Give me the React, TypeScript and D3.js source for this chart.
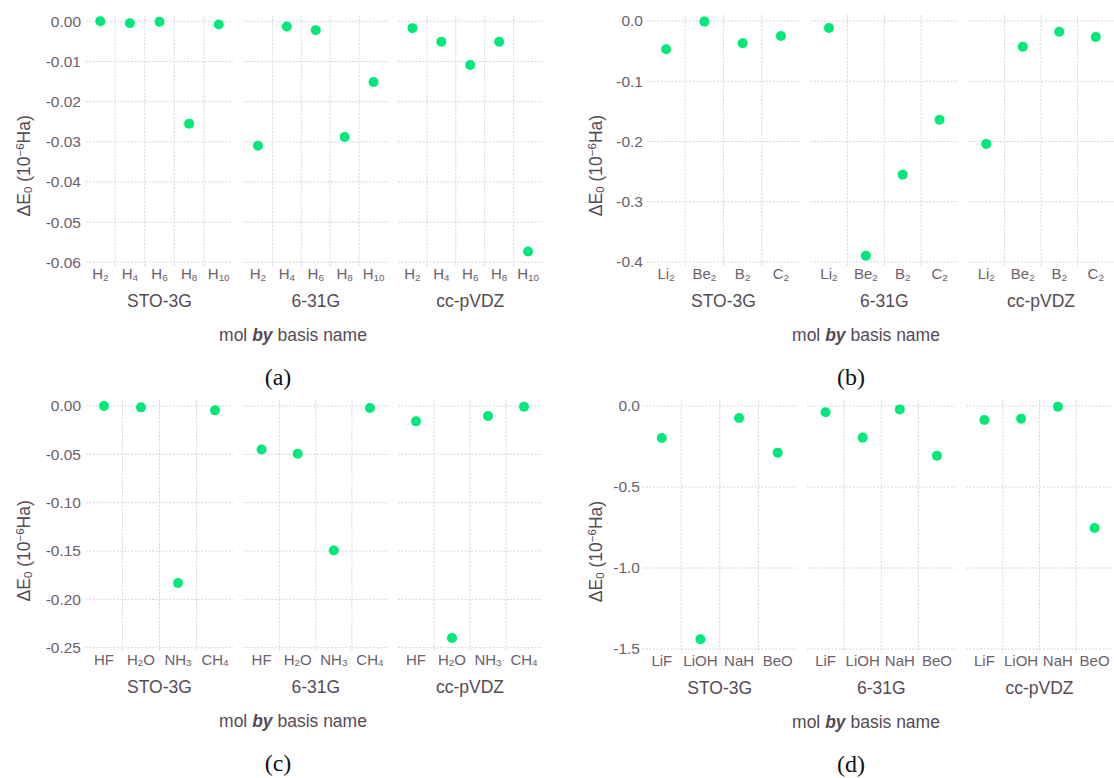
import React from 'react';
import * as d3 from 'd3';

// basis sets (facets), shared by all four panels
const basisNames = ['STO-3G', '6-31G', 'cc-pVDZ'];

// (a) hydrogen chains
const molsA = ['H_2', 'H_4', 'H_6', 'H_8', 'H_10'];
const stoA = [0.0, -0.0005, -0.0001, -0.0255, -0.0008];
const g631A = [-0.031, -0.0013, -0.0022, -0.0288, -0.0151];
const ccA = [-0.0017, -0.0051, -0.0109, -0.0051, -0.0573];
const ticksA = [0, -0.01, -0.02, -0.03, -0.04, -0.05, -0.06];

// (b) dimers
const molsB = ['Li_2', 'Be_2', 'B_2', 'C_2'];
const stoB = [-0.047, -0.001, -0.037, -0.025];
const g631B = [-0.0116, -0.3895, -0.255, -0.164];
const ccB = [-0.204, -0.0427, -0.0177, -0.0266];
const ticksB = [0, -0.1, -0.2, -0.3, -0.4];

// (c) hydrides
const molsC = ['HF', 'H_2O', 'NH_3', 'CH_4'];
const stoC = [0.0, -0.0014, -0.183, -0.0045];
const g631C = [-0.045, -0.0494, -0.1494, -0.002];
const ccC = [-0.0159, -0.24, -0.0104, -0.0007];
const ticksC = [0, -0.05, -0.1, -0.15, -0.2, -0.25];

// (d) ionic
const molsD = ['LiF', 'LiOH', 'NaH', 'BeO'];
const stoD = [-0.197, -1.44, -0.074, -0.288];
const g631D = [-0.039, -0.195, -0.021, -0.307];
const ccD = [-0.086, -0.078, -0.004, -0.753];
const ticksD = [0, -0.5, -1.0, -1.5];

const FONT = '"Liberation Sans", Arial, Helvetica, sans-serif';
const GRID = '#d4d2e4';
const MINOR = '#6c606b';
const MAJOR = '#564a55';
const POINT = '#00e878';

// "H_2O" -> H, sub 2, O
const subLabel = (s: string, size: number) => {
  const parts = s.split(/_(\d+)/);
  const out: any[] = [];
  const shift = size * 0.1;
  let shifted = false;
  parts.forEach((p, i) => {
    if (!p) return;
    if (i % 2 === 1) {
      out.push(<tspan key={i} fontSize={size * 0.66} dy={shift}>{p}</tspan>);
      shifted = true;
    } else {
      out.push(<tspan key={i} dy={shifted ? -shift : 0}>{p}</tspan>);
      shifted = false;
    }
  });
  return out;
};

type PanelProps = {
  series: number[][];
  mols: string[];
  ticks: number[];
  fmt: (v: number) => string;
  facets: [number, number][];
  yTop: number;
  yBot: number;
  yAxisX: number;
  titleX: number;
  letter: string;
  centerX: number;
};

const Panel = ({ series, mols, ticks, fmt, facets, yTop, yBot, yAxisX, titleX, letter, centerX }: PanelProps) => {
  const y = d3.scaleLinear()
    .domain([ticks[0], ticks[ticks.length - 1]])
    .range([yTop, yBot]);
  const gTop = yTop - 6;
  const gBot = yBot + 4;
  // the y title sits in the middle of plot + x labels
  const midY = (yTop - 6 + yBot + 54) / 2;

  return (
    <g fontFamily={FONT}>
      {facets.map((f, fi) => {
        const x = d3.scaleBand().domain(mols).range(f).padding(0);
        const step = x.step();
        return (
          <g key={fi}>
            {ticks.map((t) => (
              <line key={t} x1={f[0]} x2={f[1]} y1={y(t)} y2={y(t)}
                stroke={GRID} strokeWidth={1} strokeDasharray="2,1.5" />
            ))}
            {mols.slice(1).map((m) => (
              <line key={m} x1={x(m)} x2={x(m)} y1={gTop} y2={gBot}
                stroke={GRID} strokeWidth={1} strokeDasharray="2,1.5" />
            ))}
            {mols.map((m) => (
              <text key={m} x={(x(m) as number) + step / 2} y={yBot + 17}
                textAnchor="middle" fontSize={15} fill={MINOR}>
                {subLabel(m, 15)}
              </text>
            ))}
            {series[fi].map((v, i) => (
              <circle key={i} cx={(x(mols[i]) as number) + step / 2} cy={y(v)} r={5} fill={POINT} />
            ))}
            <text x={(f[0] + f[1]) / 2} y={yBot + 45} textAnchor="middle" fontSize={17.5} fill={MAJOR}>
              {basisNames[fi]}
            </text>
          </g>
        );
      })}
      {ticks.map((t) => (
        <text key={t} x={yAxisX} y={y(t)} dy="0.35em" textAnchor="end" fontSize={15.5} fill={MINOR}>
          {fmt(t)}
        </text>
      ))}
      <text transform={`translate(${titleX},${midY}) rotate(-90)`} textAnchor="middle"
        fontSize={17.5} fill={MAJOR} dy="0.35em">
        <tspan>ΔE</tspan>
        <tspan fontSize={11.5} dy={2}>0</tspan>
        <tspan dy={-2}> (10</tspan>
        <tspan fontSize={11.5} dy={-6}>−6</tspan>
        <tspan dy={6}>Ha)</tspan>
      </text>
      <text x={centerX} y={yBot + 79} textAnchor="middle" fontSize={17.5} fill={MAJOR}>
        mol <tspan fontWeight="bold" fontStyle="italic">by</tspan> basis name
      </text>
      <text x={centerX - 15} y={yBot + 123} textAnchor="middle" fontSize={24}
        fontFamily='"Liberation Serif", "DejaVu Serif", serif' fill="#111">
        ({letter})
      </text>
    </g>
  );
};

const f2 = (v: number) => (v === 0 ? '0.00' : d3.format('.2f')(v).replace('−', '-'));
const f1 = (v: number) => (v === 0 ? '0.0' : d3.format('.1f')(v).replace('−', '-'));

const App = () => {
  const width = 1114;
  const height = 778;
  return (
    <svg width={width} height={height} style={{ position: 'absolute', left: 0, top: 0, background: '#fff' }}>
      <Panel series={[stoA, g631A, ccA]} mols={molsA} ticks={ticksA} fmt={f2}
        facets={[[85.5, 233.5], [243.5, 388], [398, 542.5]]}
        yTop={21.3} yBot={262.3} yAxisX={81} titleX={24} letter="a" centerX={293} />
      <Panel series={[stoB, g631B, ccB]} mols={molsB} ticks={ticksB} fmt={f1}
        facets={[[647, 800], [810.5, 958], [968, 1114]]}
        yTop={21} yBot={262} yAxisX={643} titleX={596} letter="b" centerX={866} />
      <Panel series={[stoC, g631C, ccC]} mols={molsC} ticks={ticksC} fmt={f2}
        facets={[[85.5, 233.5], [243.5, 388], [398, 542]]}
        yTop={406} yBot={647.7} yAxisX={81} titleX={24} letter="c" centerX={293} />
      <Panel series={[stoD, g631D, ccD]} mols={molsD} ticks={ticksD} fmt={f1}
        facets={[[642.5, 797], [807, 955.5], [966, 1113]]}
        yTop={406} yBot={649} yAxisX={640} titleX={596} letter="d" centerX={866} />
    </svg>
  );
};

export default App;
